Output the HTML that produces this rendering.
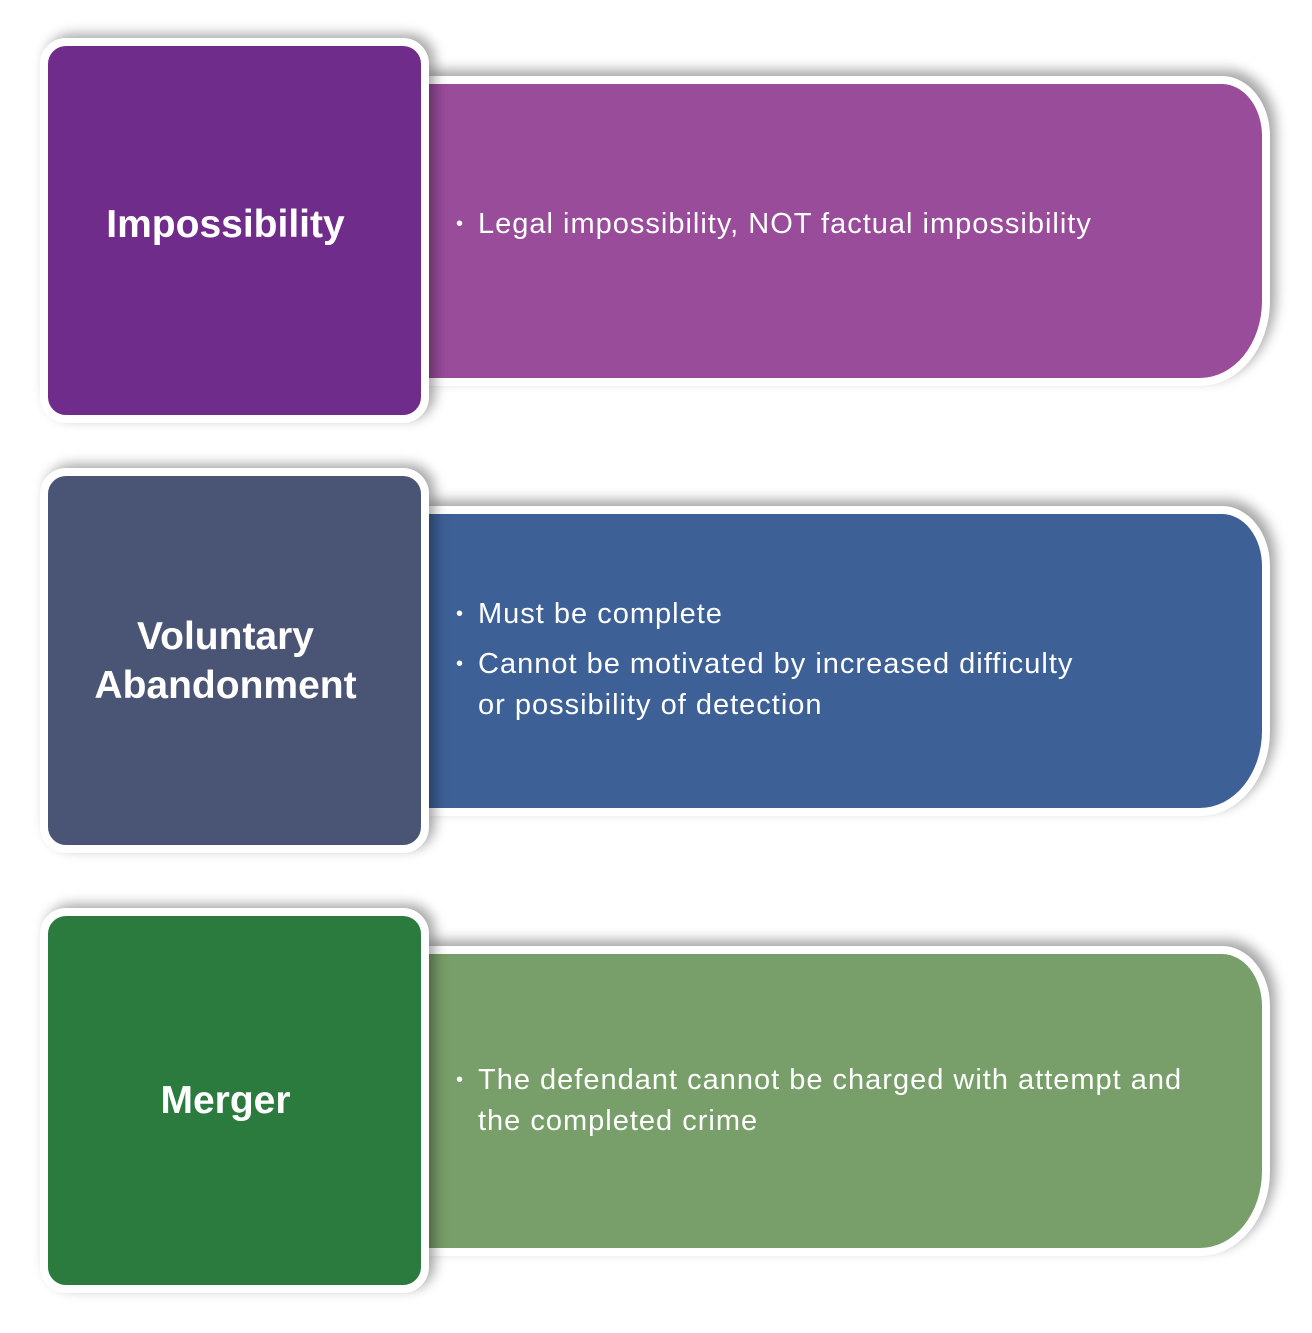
<!DOCTYPE html>
<html><head><style>
body{margin:0;width:1312px;height:1333px;background:#fff;position:relative;font-family:"Liberation Sans",sans-serif;overflow:hidden}
.r{position:absolute;left:420px;width:842px;height:294px;border:8px solid #fff;border-left:none;border-radius:0 48px 70px 0/0 60px 85px 0;box-shadow:6px -6px 12px rgba(0,0,0,.35)}
.l{position:absolute;left:40px;width:355px;padding-right:18px;height:369px;border:8px solid #fff;border-radius:26px;box-shadow:6px -4px 12px rgba(0,0,0,.35);color:#fff;font-weight:bold;font-size:39px;text-align:center;display:flex;align-items:center;justify-content:center;line-height:49px}
.t{position:absolute;left:478px;color:#fff;font-size:29px;letter-spacing:1px;line-height:41px}
.t b{position:absolute;left:-22px;font-weight:normal;font-size:20px}
</style></head><body>
<div class="r" style="top:76px;background:#994c9a"></div>
<div class="l" style="top:38px;background:#6f2c8b;padding-bottom:12px;box-sizing:content-box;height:357px">Impossibility</div>
<div class="t" style="top:204px"><b>•</b>Legal impossibility, NOT factual impossibility</div>

<div class="r" style="top:506px;background:#3d6096"></div>
<div class="l" style="top:468px;background:#4a5474">Voluntary<br>Abandonment</div>
<div class="t" style="top:594px"><b>•</b>Must be complete</div>
<div class="t" style="top:644px"><b>•</b>Cannot be motivated by increased difficulty<br>or possibility of detection</div>

<div class="r" style="top:946px;background:#789e69"></div>
<div class="l" style="top:908px;background:#2b7b3f">Merger</div>
<div class="t" style="top:1060px"><b>•</b>The defendant cannot be charged with attempt and<br>the completed crime</div>
</body></html>
